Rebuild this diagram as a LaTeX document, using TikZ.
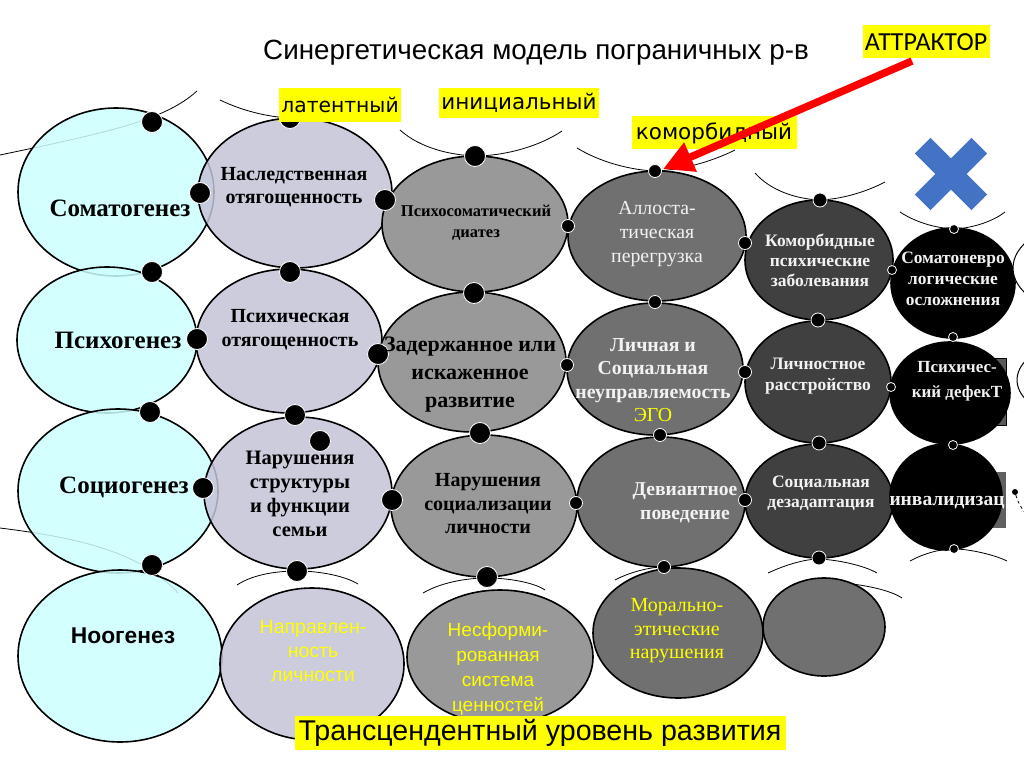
\documentclass[tikz,border=0pt]{standalone}
\usepackage{fontspec}
\setmainfont{Liberation Serif}
\newfontfamily\lsans{Liberation Sans}
\newfontfamily\dvs{DejaVu Sans}
\newfontfamily\carl{Carlito}
\usetikzlibrary{shapes.geometric,arrows.meta}
\definecolor{cyanf}{RGB}{204,255,255}
\definecolor{lavf}{RGB}{196,196,216}
\definecolor{gthree}{RGB}{153,153,153}
\definecolor{gfour}{RGB}{112,112,112}
\definecolor{gfive}{RGB}{64,64,64}
\definecolor{ylab}{RGB}{255,255,0}
\definecolor{ytxt}{RGB}{255,255,0}
\definecolor{xblue}{RGB}{68,114,196}
\definecolor{wtxt}{RGB}{242,242,242}
\newcommand\fsz[2]{\fontsize{#1pt}{#2pt}\selectfont}
\tikzset{
  ell/.style={ellipse, draw=black, line width=1.6pt, inner sep=0pt},
  cone/.style={ell, fill=cyanf, fill opacity=0.85},
  ctwo/.style={ell, fill=lavf, fill opacity=0.85},
  cthree/.style={ell, fill=gthree},
  cfour/.style={ell, fill=gfour},
  cfive/.style={ell, fill=gfive},
  csix/.style={ell, fill=black},
  bigdot/.style={circle, fill=black, draw=white, line width=0.8pt, minimum size=21pt, inner sep=0pt},
  smalldot/.style={circle, fill=black, draw=white, line width=0.8pt, minimum size=13pt, inner sep=0pt},
  tinydot/.style={circle, fill=black, draw=white, line width=0.8pt, minimum size=9pt, inner sep=0pt},
  whisk/.style={draw=black, line width=0.8pt},
  lab/.style={fill=ylab, inner sep=2pt, font=\dvs\fsz{21.5}{24}, text=black},
  txt/.style={align=center, inner sep=0pt},
}
\begin{document}
\begin{tikzpicture}[x=1pt,y=-1pt]
\useasboundingbox (0,0) rectangle (1024,767);
\clip (0,0) rectangle (1024,767);
\fill[white] (0,0) rectangle (1024,767);

% background rectangles behind black ellipses
\fill[gray!70!black, draw=black] (960,358) rectangle (1006,425);
\fill[gray!75!black] (940,472) rectangle (1006,528);

% whiskers (drawn first, under ellipses)
\draw[whisk] (0,155) .. controls (110,132) and (165,120) .. (197,91);
\draw[whisk] (0,528) .. controls (80,538) and (140,552) .. (178,593);
\draw[whisk] (220,100) .. controls (245,112) and (270,117) .. (290,118) .. controls (320,118) and (360,110) .. (390,100);
\draw[whisk] (400,130) .. controls (420,148) and (450,155) .. (475,156) .. controls (505,156) and (540,146) .. (562,131);
\draw[whisk] (577,148) .. controls (600,162) and (630,170) .. (655,171) .. controls (685,170) and (715,160) .. (735,150);
\draw[whisk] (755,173) .. controls (770,190) and (795,199) .. (820,200) .. controls (845,199) and (870,190) .. (885,182);
\draw[whisk] (900,212) .. controls (915,222) and (935,228) .. (954,229) .. controls (975,228) and (995,220) .. (1005,212);
\draw[whisk] (237,585) .. controls (252,575) and (275,571) .. (297,571) .. controls (320,571) and (345,576) .. (358,584);
\draw[whisk] (423,593) .. controls (440,583) and (465,578) .. (487,578) .. controls (510,578) and (535,583) .. (545,590);
\draw[whisk] (615,580) .. controls (630,572) and (650,567) .. (664,567) .. controls (685,567) and (705,572) .. (720,578);
\draw[whisk] (768,573) .. controls (785,565) and (805,559) .. (819,559) .. controls (840,560) and (865,566) .. (877,573);
\draw[whisk] (843,583) .. controls (865,585) and (890,590) .. (902,598);
\draw[whisk] (910,561) .. controls (925,553) and (940,549) .. (954,549) .. controls (970,549) and (995,555) .. (1007,561);

% ellipses
\node[cone, minimum width=196pt, minimum height=168pt] (soma) at (116,192) {};
\node[cone, minimum width=180pt, minimum height=146pt] (psycho) at (107,340) {};
\node[cone, minimum width=200pt, minimum height=164pt] (socio) at (118,491) {};
\node[cone, minimum width=204pt, minimum height=172pt] (noo) at (120,656) {};
\node[ctwo, minimum width=194pt, minimum height=150pt] (nasl) at (295,193) {};
\node[ctwo, minimum width=186pt, minimum height=144pt] (psych) at (289,341) {};
\node[ctwo, minimum width=188pt, minimum height=152pt] (narst) at (298,493) {};
\node[ctwo, minimum width=184pt, minimum height=152pt] (napr) at (312,664) {};
\node[cthree, minimum width=186pt, minimum height=136pt] (diat) at (475,224) {};
\node[cthree, minimum width=188pt, minimum height=140pt] (zader) at (472,362) {};
\node[cthree, minimum width=186pt, minimum height=142pt] (narsoc) at (484,506) {};
\node[cthree, minimum width=186pt, minimum height=134pt] (nesf) at (500,657) {};
\node[cfour, minimum width=178pt, minimum height=130pt] (allo) at (657,236) {};
\node[cfour, minimum width=176pt, minimum height=132pt] (lichn) at (655,369) {};
\node[cfour, minimum width=168pt, minimum height=130pt] (devi) at (661,502) {};
\node[cfour, minimum width=170pt, minimum height=130pt] (moral) at (678,633) {};
\node[cfive, minimum width=148pt, minimum height=120pt] (komor) at (819,260) {};
\node[cfive, minimum width=146pt, minimum height=122pt] (lichst) at (818,382) {};
\node[cfive, minimum width=148pt, minimum height=114pt] (socdez) at (819,501) {};
\node[cfour, minimum width=122pt, minimum height=98pt] (empty) at (824,627) {};
\node[csix, minimum width=124pt, minimum height=110pt] (somnev) at (953,283) {};
\node[csix, minimum width=120pt, minimum height=102pt] (psdef) at (950,393) {};
\node[csix, minimum width=112pt, minimum height=106pt] (inval) at (946,497) {};
% partial shapes at the right edge
\node[ell, line width=1pt, fill=white, minimum width=124pt, minimum height=84pt] (edgea) at (1075,268) {};
\node[ell, line width=1pt, fill=white, minimum width=124pt, minimum height=76pt] (edgeb) at (1079,380) {};

% dots
\node[bigdot] (b1) at (152,122) {};
\node[bigdot] (b2) at (200,193) {};
\node[bigdot] (b3) at (290,118) {};
\node[bigdot] (b4) at (385,200) {};
\node[bigdot] (b5) at (152,272) {};
\node[bigdot] (b6) at (290,272) {};
\node[bigdot] (b7) at (197,339) {};
\node[bigdot] (b8) at (378,354) {};
\node[bigdot] (b9) at (150,412) {};
\node[bigdot] (b10) at (295,415) {};
\node[bigdot] (b11) at (320,441) {};
\node[bigdot] (b12) at (203,488) {};
\node[bigdot] (b13) at (392,500) {};
\node[bigdot] (b14) at (152,565) {};
\node[bigdot] (b15) at (297,571) {};
\node[bigdot] (b16) at (475,156) {};
\node[bigdot] (b17) at (474,293) {};
\node[bigdot] (b18) at (480,433) {};
\node[bigdot] (b19) at (487,577) {};
\node[smalldot] (s1) at (655,171) {};
\node[smalldot] (s2) at (568,226) {};
\node[smalldot] (s3) at (745,243) {};
\node[smalldot] (s4) at (655,302) {};
\node[smalldot] (s5) at (567,365) {};
\node[smalldot] (s6) at (745,372) {};
\node[smalldot] (s7) at (660,435) {};
\node[smalldot] (s8) at (576,503) {};
\node[smalldot] (s9) at (745,500) {};
\node[smalldot] (s10) at (664,567) {};
\node[smalldot, minimum size=14pt] (s11) at (820,200) {};
\node[smalldot, minimum size=14pt] (s12) at (818,320) {};
\node[smalldot, minimum size=14pt] (s13) at (819,443) {};
\node[smalldot, minimum size=14pt] (s14) at (819,558) {};
\node[tinydot] (t1) at (892,270) {};
\node[tinydot] (t2) at (954,229) {};
\node[tinydot] (t3) at (953,337) {};
\node[tinydot] (t4) at (891,387) {};
\node[tinydot] (t5) at (953,445) {};
\node[tinydot] (t6) at (954,549) {};
\node[circle, fill=black, minimum size=6pt, inner sep=0pt] (t7) at (1015,492) {};
\coordinate (edgec) at (1026,514);
\draw[whisk, dashed] (t7) .. controls (1017,500) and (1021,508) .. (edgec);

% texts in ellipses
\node[txt, font=\bfseries\fsz{25}{28}] (tsoma) at (120,208) {Соматогенез};
\node[txt, font=\bfseries\fsz{25}{28}] (tpsycho) at (118,340) {Психогенез};
\node[txt, font=\bfseries\fsz{25}{28}] (tsocio) at (124,487) {Социогенез};
\node[txt, font=\lsans\bfseries\fsz{22.8}{26}] (tnoo) at (123,636) {Ноогенез};
\node[txt, font=\bfseries\fsz{20}{23}] (tnasl) at (294,187) {Наследственная\\отягощенность};
\node[txt, font=\bfseries\fsz{20}{24}] (tpsych) at (290,330) {Психическая\\отягощенность};
\node[txt, font=\bfseries\fsz{20.5}{24}] (tnarst) at (300,494) {Нарушения\\структуры\\и функции\\семьи};
\node[txt, font=\lsans\fsz{19.5}{24}, text=ytxt] (tnapr) at (313,651) {Направлен-\\ность\\личности};
\node[txt, font=\bfseries\fsz{16.5}{21}] (tdiat) at (476,223) {Психосоматический\\диатез};
\node[txt, font=\bfseries\fsz{22}{28}] (tzader) at (470,375) {Задержанное или\\искаженное\\развитие};
\node[txt, font=\bfseries\fsz{20}{23.5}] (tnarsoc) at (488,504) {Нарушения\\социализации\\личности};
\node[txt, font=\lsans\fsz{19}{24.7}, text=ytxt] (tnesf) at (498,669) {Несформи-\\рованная\\система\\ценностей};
\node[txt, font=\fsz{19.8}{24}, text=wtxt] (tallo) at (657,234) {Аллоста-\\тическая\\перегрузка};
\node[txt, font=\bfseries\fsz{19.8}{23.5}, text=wtxt] (tlichn) at (653,380) {Личная и\\Социальная\\неуправляемость\\{\mdseries\color{ytxt}ЭГО}};
\node[txt, font=\bfseries\fsz{19.6}{24}, text=wtxt] (tdevi) at (685,503) {Девиантное\\поведение};
\node[txt, font=\fsz{20}{23.5}, text=ytxt] (tmoral) at (677,631) {Морально-\\этические\\нарушения};
\node[txt, font=\bfseries\fsz{17.5}{20}, text=wtxt] (tkomor) at (820,260) {Коморбидные\\психические\\заболевания};
\node[txt, font=\bfseries\fsz{17.5}{21}, text=wtxt] (tlichst) at (818,376) {Личностное\\расстройство};
\node[txt, font=\bfseries\fsz{17.5}{20}, text=wtxt] (tsocdez) at (821,493) {Социальная\\дезадаптация};
\node[txt, font=\bfseries\fsz{17.4}{21}, text=wtxt] (tsomnev) at (953,279) {Соматоневро\\логические\\осложнения};
\node[txt, font=\bfseries\fsz{17}{25}, text=wtxt] (tpsdef) at (957,381) {Психичес-\\кий дефекТ};
\node[txt, font=\bfseries\fsz{19.5}{22}, text=wtxt] (tinval) at (947,503) {инвалидизац};

% blue cross
\begin{scope}[shift={(951,174)}, rotate=45]
\fill[xblue] (-11,-40) -- (11,-40) -- (11,-11) -- (40,-11) -- (40,11) -- (11,11) -- (11,40) -- (-11,40) -- (-11,11) -- (-40,11) -- (-40,-11) -- (-11,-11) -- cycle;
\end{scope}

% title and labels
\node[txt, font=\lsans\fsz{27.8}{32}] (title) at (536,53) {Синергетическая модель пограничных р-в};
\node[lab, font=\dvs\fsz{20.3}{24}, minimum width=120pt, minimum height=34pt] (llat) at (340,105) {латентный};
\node[lab, minimum width=158pt, minimum height=30pt] (lini) at (519,103) {инициальный};
\node[lab, minimum width=165pt, minimum height=33pt] (lkom) at (714,133) {коморбидный};
\node[lab, font=\carl\fsz{26}{28}, minimum width=127pt, minimum height=33pt] (latt) at (926,42) {АТТРАКТОР};
\node[lab, font=\lsans\fsz{28.6}{31}, minimum width=491pt, minimum height=34pt] (ltrans) at (540,733) {Трансцендентный уровень развития};

% attractor arrow
\coordinate (atail) at (912,61);
\coordinate (atip) at (663,169);
\draw[red, line width=7.5pt, -{Triangle[length=30pt, width=30pt]}] (atail) -- (atip);
\end{tikzpicture}
\end{document}
